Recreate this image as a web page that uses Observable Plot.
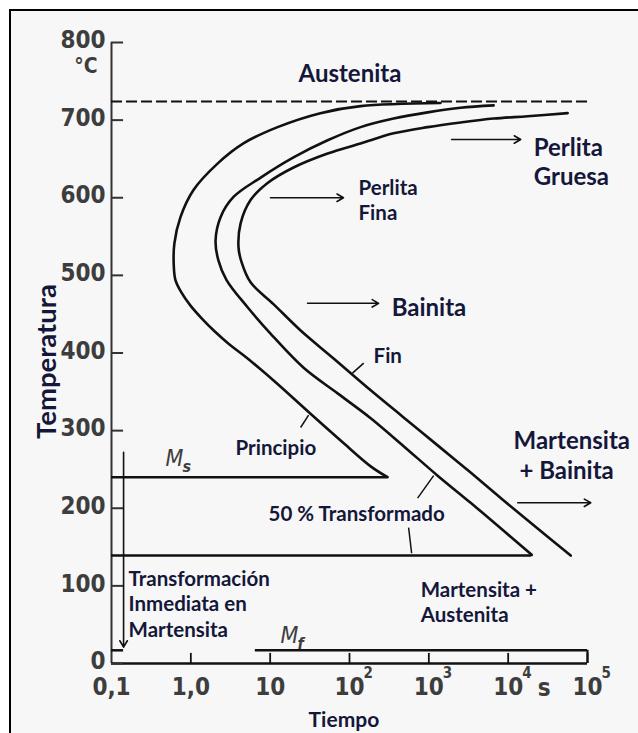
<!DOCTYPE html>
<html>
<head>
<meta charset="utf-8">
<script src="https://cdn.jsdelivr.net/npm/d3@7"></script>
<script src="https://cdn.jsdelivr.net/npm/@observablehq/plot@0.6"></script>
<style>
html, body { margin: 0; padding: 0; background: #fff; overflow: hidden; width: 638px; height: 733px; }
#frame { position: absolute; left: 9px; top: 9px; width: 660px; height: 760px; border-left: 2px solid #000; border-top: 2px solid #000; background: #f7f7f7; }
#chart { position: absolute; left: 0; top: 0; }
</style>
</head>
<body>
<div id="frame"></div>
<div id="chart"></div>
<script>
// ---- Data: time in seconds, temperature in °C ----
const timeTicks = [0.1, 1, 10, 100, 1000, 10000, 100000];
const timeTickBase = ["0,1", "1,0", "10", "10", "10", "10", "10"];
const timeTickExp = ["", "", "", "2", "3", "4", "5"];
const tempTicks = [0, 100, 200, 300, 400, 500, 600, 700, 800];
const tempTickLabels = ["0", "100", "200", "300", "400", "500", "600", "700", "800"];

// transformation start curve ("Principio")
const principio = [
  [1400, 722], [138, 718], [43, 709], [12.4, 691], [4.6, 670], [2.17, 644],
  [1.08, 610], [0.74, 575], [0.62, 541], [0.61, 512], [0.64, 494], [0.76, 478],
  [0.99, 461], [1.36, 445], [1.99, 428], [2.99, 412], [4.62, 397], [7.57, 379],
  [12.4, 360], [32, 322], [84, 284], [185, 254], [302, 240]
];
// 50 % transformed curve
const cincuenta = [
  [6560, 719], [2520, 716], [966, 710], [360, 702], [138, 691], [53, 674],
  [19.7, 652], [7.6, 626], [3.45, 601], [2.37, 575], [2.05, 545], [2.23, 519],
  [2.82, 494], [5.19, 459], [10.1, 425], [26.4, 381], [70.8, 348], [185, 316],
  [481, 280], [1291, 242], [3365, 207], [8770, 171], [19800, 140]
];
// transformation end curve ("Fin")
const fin = [
  [56200, 709], [17600, 705], [6560, 702], [2520, 697], [966, 691], [360, 683],
  [138, 670], [53, 657], [19.7, 639], [9.27, 619], [5.66, 597], [4.24, 567],
  [3.99, 536], [4.36, 517], [5.66, 491], [11.0, 463], [24.2, 429], [63, 393],
  [185, 352], [481, 317], [1291, 281], [3365, 246], [8770, 210], [23500, 174],
  [61400, 139]
];

// horizontal reference levels
const austenitaLine = [{T: 724, t0: 0.1, t1: 110000}];
const msLine = [{T: 240, t0: 0.1, t1: 302}];
const lowLine = [{T: 139, t0: 0.1, t1: 19800}];
const mfLine = [{T: 17, t0: 0.1, t1: 0.142}, {T: 17, t0: 6.5, t1: 100000}];

// arrows and leader lines
const arrows = [
  {t1: 1940, T1: 675, t2: 14400, T2: 675},    // Perlita Gruesa
  {t1: 10.1, T1: 600, t2: 84, T2: 600},       // Perlita Fina
  {t1: 29.6, T1: 464, t2: 233, T2: 464},      // Bainita
  {t1: 13200, T1: 207, t2: 110000, T2: 207},  // Martensita + Bainita
  {t1: 0.142, T1: 272, t2: 0.142, T2: 21}     // Transformación inmediata
];
const leaders = [
  {t1: 151, T1: 387, t2: 109, T2: 374},   // Fin
  {t1: 30.5, T1: 320, t2: 24.2, T2: 304}, // Principio
  {t1: 1150, T1: 242, t2: 722, T2: 213},  // 50 %
  {t1: 556, T1: 175, t2: 607, T2: 142}    // 50 % lower
];

// annotation texts (anchor = left end of the last line's baseline)
const bigLabels = [
  {t: 22.8, T: 749, text: "Austenita"},
  {t: 21000, T: 616, text: "Perlita\nGruesa"},
  {t: 340, T: 448, text: "Bainita"},
  {t: 11700, T: 238, text: "Martensita\n\u00a0+ Bainita"}
];
const smallLabels = [
  {t: 130, T: 571, text: "Perlita\nFina"},
  {t: 201, T: 387, text: "Fin"},
  {t: 3.66, T: 268, text: "Principio"},
  {t: 9.55, T: 184, text: "50 % Transformado"},
  {t: 789, T: 53, text: "Martensita +\nAustenita"},
  {t: 0.164, T: 34, text: "Transformación\nInmediata en\nMartensita"}
];
const xTitle = [{t: 30.5, T: -82, text: "Tiempo"}];
const yTitle = [{t: 0.0156, T: 389, text: "Temperatura"}];
const symbols = [
  {t: 0.48, T: 255, main: "M", sub: "s"},
  {t: 13.5, T: 26, main: "M", sub: "f"}
];

const ink = "#111";
const labelInk = "#15173a";
const tickInk = "#3d3d3d";
const labelFont = "Lato, 'Open Sans', sans-serif";
const tickFont = "'Liberation Sans Narrow', 'DejaVu Sans Condensed', sans-serif";

const chart = Plot.plot({
  width: 638,
  height: 733,
  marginLeft: 111,
  marginRight: 51,
  marginTop: 42,
  marginBottom: 70,
  style: {background: "transparent", overflow: "visible"},
  x: {type: "log", domain: [0.1, 100000], axis: null},
  y: {domain: [0, 800], axis: null},
  marks: [
    // axes
    Plot.ruleX([0.1], {y1: 0, y2: 800, stroke: "#333", strokeWidth: 2}),
    Plot.ruleY([0], {x1: 0.1, x2: 100000, stroke: ink, strokeWidth: 2.5}),
    Plot.ruleY(tempTicks, {x1: 0.1, x2: 0.142, stroke: "#333", strokeWidth: 2}),
    Plot.ruleX(timeTicks.slice(1), {y1: 0, y2: 13, stroke: ink, strokeWidth: 1.8}),
    Plot.ruleX([100000], {y1: 0, y2: 17, stroke: ink, strokeWidth: 2.2}),
    Plot.text(tempTicks, {x: 0.1, y: d => d, text: (d, i) => tempTickLabels[i], dx: -6, dy: -2, textAnchor: "end", lineAnchor: "middle", fontSize: 24, fontWeight: "bold", fontFamily: tickFont, fill: tickInk}),
    Plot.text(["°C"], {x: 0.1, y: 800, text: d => d, dx: -14, dy: 24, textAnchor: "end", lineAnchor: "middle", fontSize: 21, fontFamily: tickFont, fontWeight: "bold", fill: tickInk}),
    Plot.text(timeTicks, {x: d => d, y: 0, text: (d, i) => timeTickBase[i], dy: 24, textAnchor: "middle", lineAnchor: "middle", fontSize: 24, fontWeight: "bold", fontFamily: tickFont, fill: tickInk}),
    Plot.text(timeTicks, {x: d => d, y: 0, text: (d, i) => timeTickExp[i], dx: 14, dy: 10, textAnchor: "start", lineAnchor: "middle", fontSize: 15, fontWeight: "bold", fontFamily: tickFont, fill: tickInk}),
    Plot.text(["s"], {x: 10000, y: 0, text: d => d, dx: 36, dy: 25, textAnchor: "middle", lineAnchor: "middle", fontSize: 24, fontWeight: "bold", fontFamily: tickFont, fill: tickInk}),

    // reference lines
    Plot.ruleY(austenitaLine, {y: "T", x1: "t0", x2: "t1", stroke: ink, strokeWidth: 2, strokeDasharray: "11,4"}),
    Plot.ruleY(msLine, {y: "T", x1: "t0", x2: "t1", stroke: ink, strokeWidth: 2.5}),
    Plot.ruleY(lowLine, {y: "T", x1: "t0", x2: "t1", stroke: ink, strokeWidth: 2.5}),
    Plot.ruleY(mfLine, {y: "T", x1: "t0", x2: "t1", stroke: ink, strokeWidth: 2.5}),

    // TTT curves
    Plot.line(principio, {x: d => d[0], y: d => d[1], curve: "catmull-rom", stroke: ink, strokeWidth: 2.6}),
    Plot.line(cincuenta, {x: d => d[0], y: d => d[1], curve: "catmull-rom", stroke: ink, strokeWidth: 2.6}),
    Plot.line(fin, {x: d => d[0], y: d => d[1], curve: "catmull-rom", stroke: ink, strokeWidth: 2.6}),

    // arrows & leaders
    Plot.arrow(arrows, {x1: "t1", y1: "T1", x2: "t2", y2: "T2", stroke: ink, strokeWidth: 1.6, headLength: 7}),
    Plot.link(leaders, {x1: "t1", y1: "T1", x2: "t2", y2: "T2", stroke: ink, strokeWidth: 1.5}),

    // symbols Ms, Mf
    Plot.text(symbols, {x: "t", y: "T", text: "main", textAnchor: "start", lineAnchor: "bottom", fontSize: 23, fontStyle: "italic", fontFamily: tickFont, fill: tickInk}),
    Plot.text(symbols, {x: "t", y: "T", text: "sub", dx: 17, dy: 6, textAnchor: "start", lineAnchor: "bottom", fontSize: 16, fontStyle: "italic", fontWeight: "bold", fontFamily: tickFont, fill: tickInk}),

    // annotations
    Plot.text(bigLabels, {x: "t", y: "T", text: "text", textAnchor: "start", lineAnchor: "bottom", lineHeight: 1.22, fontSize: 24, fontWeight: "bold", fontFamily: labelFont, fill: labelInk}),
    Plot.text(smallLabels, {x: "t", y: "T", text: "text", textAnchor: "start", lineAnchor: "bottom", lineHeight: 1.25, fontSize: 20.5, fontWeight: "bold", fontFamily: labelFont, fill: labelInk}),
    Plot.text(xTitle, {x: "t", y: "T", text: "text", textAnchor: "start", lineAnchor: "bottom", fontSize: 21, fontWeight: "bold", fontFamily: labelFont, fill: labelInk}),
    Plot.text(yTitle, {x: "t", y: "T", text: "text", rotate: -90, textAnchor: "middle", lineAnchor: "middle", fontSize: 27.5, fontWeight: "bold", fontFamily: labelFont, fill: labelInk})
  ]
});
document.getElementById("chart").appendChild(chart);
</script>
</body>
</html>
